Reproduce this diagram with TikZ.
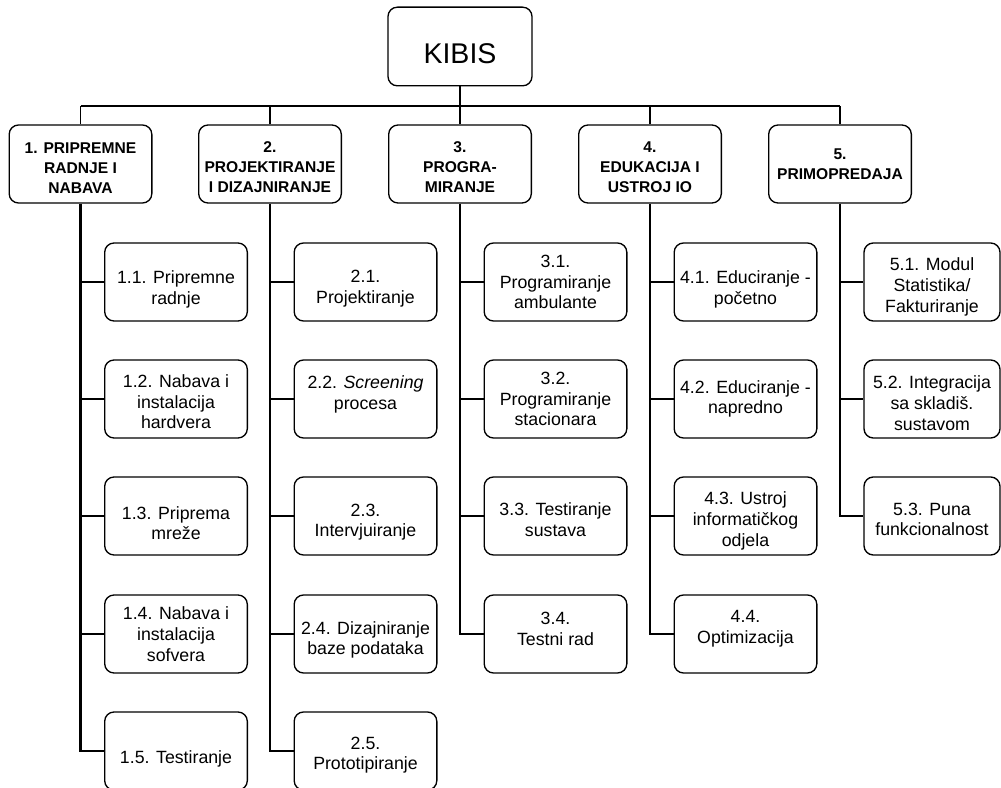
\documentclass[tikz,border=0pt]{standalone}
\usepackage{fontspec}
\setmainfont{Liberation Sans}
\tikzset{
  topbox/.style={draw, rounded corners=7pt, line width=1pt, inner sep=0pt,
                 minimum width=108pt, minimum height=59pt,
                 font=\fontsize{21.4}{25}\selectfont},
  wp/.style    ={draw, rounded corners=7pt, line width=1pt, align=center, inner sep=0pt,
                 minimum width=107pt, minimum height=58.5pt,
                 font=\fontsize{11.7}{15}\selectfont\bfseries},
  task/.style  ={draw, rounded corners=7pt, line width=1pt, align=center, inner sep=0pt,
                 minimum width=107pt, minimum height=58.5pt,
                 font=\fontsize{13.3}{15.5}\selectfont},
  narrow/.style={minimum width=102pt},
  lo/.style    ={execute at begin node={\rule{0pt}{#1}}},      % text a bit lower
  hi/.style    ={execute at begin node={\rule[-#1]{0pt}{#1}}}, % text a bit higher
  conn/.style  ={line width=1.4pt},
  trunk/.style ={line width=1.8pt},
}
\begin{document}
\begin{tikzpicture}[x=0.75pt,y=-0.75pt]
\useasboundingbox (0,0) rectangle (1001,788);

% project and work packages
\node[topbox,lo=25pt] (kibis) at (460,46.5) {KIBIS};
\coordinate (bus) at (460,106);
\node[wp,lo=44pt] (w1) at (80.5,164) {1. PRIPREMNE\\RADNJE I\\NABAVA};
\node[wp,lo=43pt] (w2) at (270,164) {2.\\PROJEKTIRANJE\\I DIZAJNIRANJE};
\node[wp,lo=43pt] (w3) at (460,164) {3.\\PROGRA-\\MIRANJE};
\node[wp,lo=43pt] (w4) at (650,164) {4.\\EDUKACIJA I\\USTROJ IO};
\node[wp] (w5) at (840,164) {5.\\PRIMOPREDAJA};

% tasks
\node[task,lo=36pt] (w11) at (176,282) {1.1. Pripremne\\radnje};
\node[task,lo=45pt] (w12) at (176,399) {1.2. Nabava i\\instalacija\\hardvera};
\node[task,lo=36pt] (w13) at (176,516) {1.3. Priprema\\mreže};
\node[task] (w14) at (176,634) {1.4. Nabava i\\instalacija\\sofvera};
\node[task,lo=22pt] (w15) at (176,751) {1.5. Testiranje};
\node[task,lo=35pt] (w21) at (365.5,282) {2.1.\\Projektiranje};
\node[task,hi=10pt] (w22) at (365.5,399) {2.2. \textit{Screening}\\procesa};
\node[task,lo=34pt] (w23) at (365.5,516) {2.3.\\Intervjuiranje};
\node[task,lo=34pt] (w24) at (365.5,634) {2.4. Dizajniranje\\baze podataka};
\node[task,lo=31pt] (w25) at (365.5,751) {2.5.\\Prototipiranje};
\node[task] (w31) at (555.5,282) {3.1.\\Programiranje\\ambulante};
\node[task] (w32) at (555.5,399) {3.2.\\Programiranje\\stacionara};
\node[task,lo=31pt] (w33) at (555.5,516) {3.3. Testiranje\\sustava};
\node[task,hi=8pt] (w34) at (555.5,634) {3.4.\\Testni rad};
\node[task,lo=36pt] (w41) at (745.5,282) {4.1. Educiranje -\\početno};
\node[task] (w42) at (745.5,399) {4.2. Educiranje -\\napredno};
\node[task,lo=48pt] (w43) at (745.5,516) {4.3. Ustroj\\informatičkog\\odjela};
\node[task,hi=11pt] (w44) at (745.5,634) {4.4.\\Optimizacija};
\node[task,narrow,lo=48pt] (w51) at (932,282) {5.1. Modul\\Statistika/\\Fakturiranje};
\node[task,narrow,lo=47pt] (w52) at (932,399) {5.2. Integracija\\sa skladiš.\\sustavom};
\node[task,narrow,lo=30pt] (w53) at (932,516) {5.3. Puna\\funkcionalnost};

% top level connectors
\draw[trunk] (kibis.south) -- (bus);
\draw[conn] (w1.north |- bus) -- (w5.north |- bus);
\draw[conn] (w1.north) -- (w1.north |- bus) (w2.north) -- (w2.north |- bus)
   (w3.north) -- (w3.north |- bus) (w4.north) -- (w4.north |- bus) (w5.north) -- (w5.north |- bus);

% trunks down to the tasks
\draw[trunk] (w1.south) |- (w15.west);
\draw[trunk] (w2.south) |- (w25.west);
\draw[trunk] (w3.south) |- (w34.west);
\draw[trunk] (w4.south) |- (w44.west);
\draw[trunk] (w5.south) |- (w53.west);
\draw[conn] (w1.south |- w11.west) -- (w11.west) (w1.south |- w12.west) -- (w12.west)
   (w1.south |- w13.west) -- (w13.west) (w1.south |- w14.west) -- (w14.west);
\draw[conn] (w2.south |- w21.west) -- (w21.west) (w2.south |- w22.west) -- (w22.west)
   (w2.south |- w23.west) -- (w23.west) (w2.south |- w24.west) -- (w24.west);
\draw[conn] (w3.south |- w31.west) -- (w31.west) (w3.south |- w32.west) -- (w32.west)
   (w3.south |- w33.west) -- (w33.west);
\draw[conn] (w4.south |- w41.west) -- (w41.west) (w4.south |- w42.west) -- (w42.west)
   (w4.south |- w43.west) -- (w43.west);
\draw[conn] (w5.south |- w51.west) -- (w51.west) (w5.south |- w52.west) -- (w52.west);
\end{tikzpicture}
\end{document}
